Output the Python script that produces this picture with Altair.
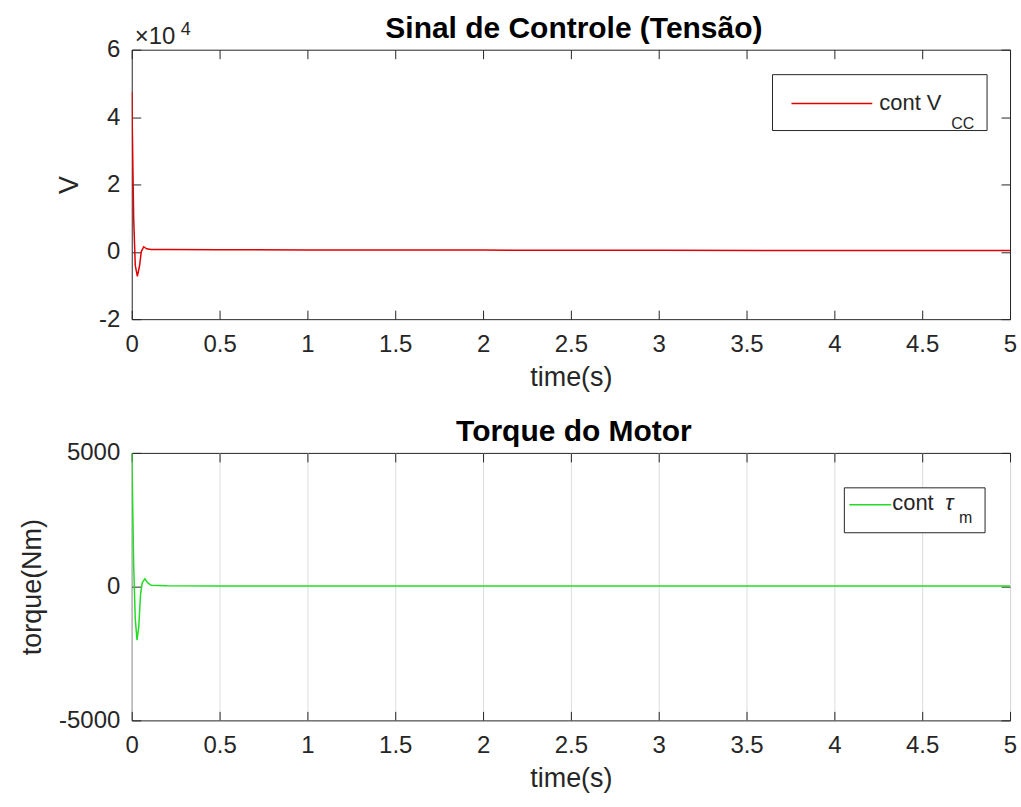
import altair as alt
import pandas as pd

# ---- data ----
time_v = [0, 0.011, 0.02, 0.032, 0.045, 0.054, 0.068, 0.085, 0.11, 0.2, 0.5, 1.0, 2.0, 3.0, 4.0, 5.0]
volt = [47500, 10000, -4000, -7300, -4000, 0, 1500, 900, 700, 650, 600, 550, 500, 450, 400, 400]

time_t = [0, 0.011, 0.02, 0.03, 0.04, 0.05, 0.06, 0.075, 0.09, 0.11, 0.2, 0.5, 1.0, 2.0, 3.0, 4.0, 5.0]
torque = [5200, 800, -1200, -2000, -1500, -300, 150, 290, 150, 50, 30, 25, 20, 20, 20, 20, 20]

x_ticks = [0, 0.5, 1, 1.5, 2, 2.5, 3, 3.5, 4, 4.5, 5]
v_ticks = [-20000, 0, 20000, 40000, 60000]
t_ticks = [-5000, 0, 5000]

df_v = pd.DataFrame({"t": time_v, "y": volt})
df_t = pd.DataFrame({"t": time_t, "y": torque})
one = pd.DataFrame({"a": [0]})

FONT = "Liberation Sans"
AX = "#262626"
TICK_FS = 24
LAB_FS = 27
TITLE_FS = 30
W = 880


def txt(text, x, y, size, weight="normal", style="normal", align="left", color=AX):
    return alt.Chart(one).mark_text(align=align, baseline="alphabetic", font=FONT,
                                    fontSize=size, fontWeight=weight, fontStyle=style,
                                    color=color, text=text).encode(
        x=alt.value(x), y=alt.value(y))


def panel(df, color, ydomain, yticks, ylabel_expr, ytitle, ytitle_pad, title, grid, height,
          bounds_y, legend_box, legend_line, extra):
    xs = alt.Scale(domain=[0, 5], nice=False, zero=False)
    ys = alt.Scale(domain=ydomain, nice=False, zero=False)
    # invisible frame that fixes the page extent
    frame = alt.Chart(one).mark_rect(opacity=0).encode(
        x=alt.value(-131), x2=alt.value(W + 10), y=alt.value(bounds_y[0]), y2=alt.value(bounds_y[1]))
    main = alt.Chart(df).mark_line(color=color, strokeWidth=1.5, clip=True).encode(
        x=alt.X("t:Q", scale=xs, axis=alt.Axis(
            orient="bottom", values=x_ticks, offset=-9, tickSize=9, tickColor=AX, domain=False,
            labelPadding=13, labelExpr="'' + datum.value", labelFont=FONT, labelFontSize=TICK_FS,
            labelColor=AX, title="time(s)", titleFont=FONT, titleFontSize=LAB_FS,
            titleFontWeight="normal", titleColor=AX, titlePadding=8, grid=grid,
            gridColor="#dcdcdc", gridWidth=1, labelFlush=False, labelOverlap=False)),
        y=alt.Y("y:Q", scale=ys, axis=alt.Axis(
            orient="left", values=yticks, offset=-9, tickSize=9, tickColor=AX, domain=False,
            labelPadding=12, labelExpr=ylabel_expr, labelFont=FONT, labelFontSize=TICK_FS,
            labelColor=AX, title=ytitle, titleFont=FONT, titleFontSize=LAB_FS,
            titleFontWeight="normal", titleColor=AX, titlePadding=ytitle_pad, grid=False,
            labelFlush=False, labelOverlap=False)),
    )
    ticks2 = alt.Chart(df).mark_line(opacity=0).encode(
        x=alt.X("t:Q", scale=xs, axis=alt.Axis(
            orient="top", values=x_ticks, offset=-9, tickSize=9, tickColor=AX, domain=False,
            labels=False, title=None, grid=False)),
        y=alt.Y("y:Q", scale=ys, axis=alt.Axis(
            orient="right", values=yticks, offset=-9, tickSize=9, tickColor=AX, domain=False,
            labels=False, title=None, grid=False)),
    )
    bx0, by0, bx1, by1 = legend_box
    box = alt.Chart(one).mark_rect(fill="white", stroke=AX, strokeWidth=1).encode(
        x=alt.value(bx0), x2=alt.value(bx1), y=alt.value(by0), y2=alt.value(by1))
    lx0, lx1, ly = legend_line
    lline = alt.Chart(one).mark_rule(color=color, strokeWidth=1.5).encode(
        x=alt.value(lx0), x2=alt.value(lx1), y=alt.value(ly))
    ttl = txt(title, W / 2 + 3, -12, TITLE_FS, weight="bold", align="center", color="#000000")
    layers = [frame, main, ticks2, box, lline, ttl] + extra
    return alt.layer(*layers).resolve_axis(x="independent", y="independent").properties(
        width=W, height=height)


top = panel(df_v, "#e00000", [-20000, 60000], v_ticks, "'' + datum.value / 10000", "V", 15,
            "Sinal de Controle (Tensão)", False, 270, (-48, 330),
            (642, 25, 857, 81), (661, 742, 54),
            [txt("cont V", 749, 60, 22), txt("CC", 821, 79, 16),
             txt("×10", 3, -6, TICK_FS), txt("4", 49, -15, 18)])

bottom = panel(df_t, "#22dd22", [-5000, 5000], t_ticks, "'' + datum.value", "torque(Nm)", 12,
               "Torque do Motor", True, 268, (-40, 355),
               (714, 35, 855, 80), (719, 761, 52),
               [txt("cont", 762, 57, 22), txt("τ", 815, 57, 22, style="italic"),
                txt("m", 829, 70, 16)])

chart = alt.vconcat(top, bottom, spacing=134, bounds="flush").properties(
    padding=0,
).configure(background="white").configure_view(stroke=AX, strokeWidth=1)

chart.save("out.html", embed_options={"renderer": "svg", "actions": False})
